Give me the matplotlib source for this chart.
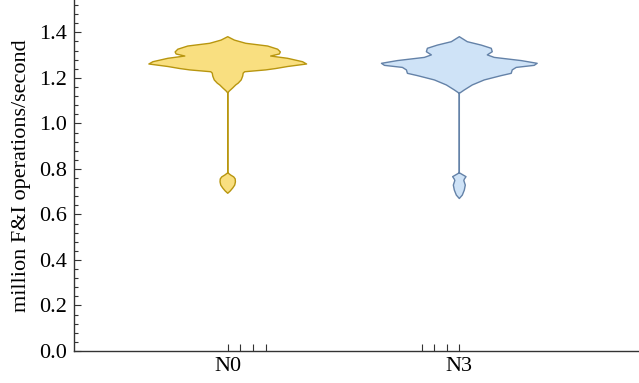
import matplotlib
matplotlib.use("Agg")
import matplotlib.pyplot as plt
import numpy as np

plt.rcParams['font.family'] = ['Liberation Serif', 'DejaVu Serif']

categories = ["N0", "N3"]
y_label = "million F&I operations/second"

# violin outlines: value levels (million ops/s) and relative half-width
n0_levels = [1.381, 1.366, 1.352, 1.340, 1.326, 1.314, 1.305, 1.296, 1.286, 1.271, 1.261,
             1.250, 1.241, 1.235, 1.227, 1.221, 1.208, 1.191, 1.177, 1.169, 1.156, 1.142, 1.134,
             0.783, 0.773, 0.765, 0.756, 0.743, 0.729, 0.716, 0.703, 0.693]
n0_width = [0.0, 6.7, 18, 40, 50, 52.7, 51.7, 43, 60, 75, 79,
            60, 48, 38, 17, 15.5, 15, 13.5, 10.5, 8, 5, 1.5, 0.0,
            0.0, 3, 6, 7.5, 7.7, 7, 5, 2.5, 0.0]

n3_levels = [1.381, 1.359, 1.344, 1.330, 1.315, 1.301, 1.290, 1.276, 1.264, 1.255, 1.246,
             1.235, 1.220, 1.210, 1.191, 1.169, 1.147, 1.132,
             0.783, 0.766, 0.755, 0.749, 0.729, 0.707, 0.685, 0.670]
n3_width = [0.0, 8, 22, 32, 33, 28, 35, 62, 78, 75, 57,
            53, 52, 42, 25, 13, 5, 0.0,
            0.0, 6.7, 5, 4.5, 6, 5, 3, 0.0]

yticks = [0.0, 0.2, 0.4, 0.6, 0.8, 1.0, 1.2, 1.4]

fills = ["#F9DF80", "#CFE3F7"]
edges = ["#B8960F", "#6482A8"]

W, H = 639, 383
fig = plt.figure(figsize=(W / 100, H / 100), dpi=100)
ax = fig.add_axes([74 / W, 32 / H, 1 - 74 / W, 1 - 32 / H])

px_per_unit = 232.0
positions = [1, 2]
for pos, lev, wid, fc, ec in zip(positions, [n0_levels, n3_levels], [n0_width, n3_width], fills, edges):
    lev = np.array(lev)
    hw = np.array(wid) / px_per_unit
    xs = np.concatenate([pos + hw, (pos - hw)[::-1]])
    ys = np.concatenate([lev, lev[::-1]])
    ax.fill(xs, ys, facecolor=fc, edgecolor=ec, linewidth=1.0, joinstyle='round')

ax.set_xlim(1 - 154 / px_per_unit, 2 + 180 / px_per_unit)
ax.set_ylim(0, 351 / 227.6)

ax.set_xticks(positions)
ax.set_xticklabels(categories)
minor_x = [1 + 12.5 / px_per_unit, 1 + 25 / px_per_unit, 1 + 38 / px_per_unit,
           2 - 37 / px_per_unit, 2 - 25 / px_per_unit, 2 - 12.5 / px_per_unit]
ax.set_xticks(minor_x, minor=True)

ax.set_yticks(yticks)
ax.set_yticklabels([f"{t:.1f}" for t in yticks])
ax.set_yticks(np.arange(0, 1.55, 0.04), minor=True)

for s in ["top", "right"]:
    ax.spines[s].set_visible(False)
for s in ["left", "bottom"]:
    ax.spines[s].set_color("#333333")
    ax.spines[s].set_linewidth(1.0)

ax.tick_params(axis='both', which='both', direction='in', colors='#333333', labelcolor='black',
               labelsize=16, width=0.8)
ax.tick_params(axis='y', which='major', length=5, pad=5)
ax.tick_params(axis='y', which='minor', length=3)
ax.tick_params(axis='x', which='both', length=5, pad=4)

ax.set_ylabel(y_label, fontsize=16, labelpad=6)

fig.savefig("out.png", dpi=100)
